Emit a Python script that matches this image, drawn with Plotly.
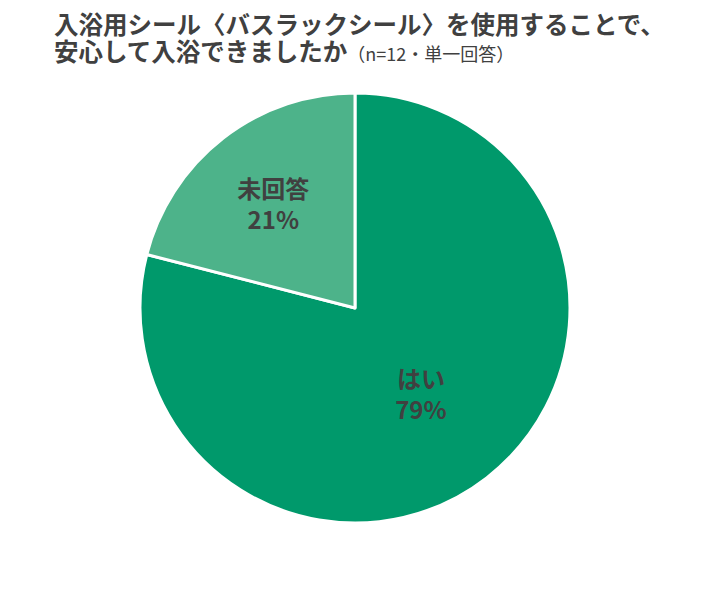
import plotly.graph_objects as go

labels = ['はい', '未回答']
values = [79, 21]
colors = ['#00996B', '#4DB38A']

title_line1 = '入浴用シール〈バスラックシール〉を使用することで、'
title_line2 = '安心して入浴できましたか'
title_note = '（n=12・単一回答）'

fig = go.Figure()

fig.add_trace(go.Pie(
    labels=labels,
    values=values,
    sort=False,
    direction='clockwise',
    rotation=0,
    marker=dict(colors=colors, line=dict(color='white', width=3)),
    texttemplate='%{label}<br>%{value}%',
    textposition='inside',
    insidetextorientation='horizontal',
    textfont=dict(family='Noto Sans CJK JP', size=24, color='#404040', weight='bold'),
    hoverinfo='label+percent',
    showlegend=False,
    domain=dict(x=[0.1828, 0.7784], y=[0.1516, 0.86]),
))

# two title lines as separate annotations to get the tight line pitch
title_font = dict(family='Noto Sans CJK JP', size=24.5, color='#404040', weight='bold')
fig.add_annotation(
    text=title_line1,
    xref='paper', yref='paper', x=44 / 722, y=1 - 15 / 607,
    xanchor='left', yanchor='middle', showarrow=False,
    font=title_font,
)
fig.add_annotation(
    text=title_line2 + '<span style="font-size:18px;font-weight:normal">' + title_note + '</span>',
    xref='paper', yref='paper', x=44 / 722, y=1 - 42 / 607,
    xanchor='left', yanchor='middle', showarrow=False,
    font=title_font,
)

fig.update_layout(
    width=722, height=607,
    margin=dict(l=0, r=0, t=0, b=0),
    paper_bgcolor='white',
    plot_bgcolor='white',
)

fig.write_html('out.html')
